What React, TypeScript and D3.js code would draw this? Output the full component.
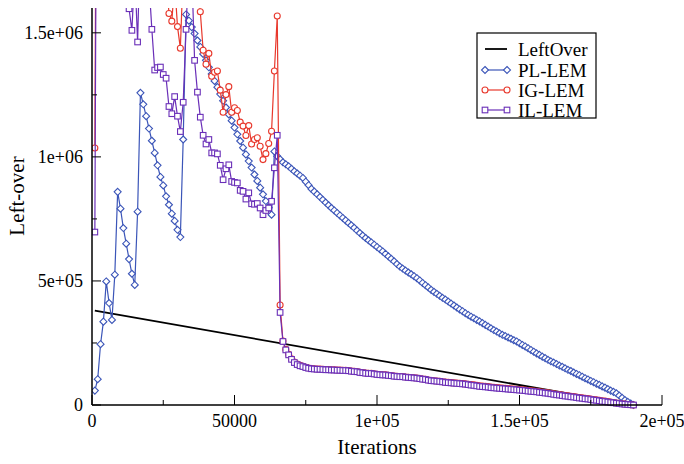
import React from "react";
import * as d3 from "d3";

// Iteration sample points (one every 1000 iterations)
const iterations: number[] = d3.range(1000, 191000, 1000);

// Values in thousands of left-over units, one per sample (values > 1600 lie above the plotted range)
const plLemK: number[] = [
  58, 104, 245, 336, 498, 411, 343, 525, 859, 791,
  713, 650, 588, 529, 484, 779, 1258, 1212, 1164, 1114,
  1065, 1016, 966, 919, 885, 841, 807, 771, 742, 706,
  677, 1070, 1574, 1549, 1523, 1497, 1469, 1443, 1415, 1389,
  1361, 1334, 1306, 1281, 1253, 1226, 1199, 1171, 1146, 1118,
  1091, 1064, 1037, 1010, 983, 957, 929, 903, 876, 849,
  822, 795, 767, 1022, 1003, 990, 978, 970, 962, 952,
  942, 933, 924, 915, 900, 886, 871, 860, 849, 838,
  827, 816, 805, 794, 784, 774, 764, 754, 744, 734,
  724, 714, 703, 693, 683, 673, 664, 655, 646, 637,
  628, 619, 609, 599, 589, 579, 568, 558, 550, 542,
  534, 527, 519, 511, 502, 492, 483, 474, 464, 456,
  448, 440, 432, 425, 417, 409, 401, 393, 385, 378,
  370, 363, 356, 350, 343, 337, 330, 323, 316, 309,
  302, 296, 289, 283, 278, 272, 267, 261, 256, 249,
  242, 236, 229, 222, 215, 208, 202, 195, 189, 182,
  176, 171, 165, 159, 154, 148, 142, 137, 131, 125,
  120, 114, 108, 103, 97, 92, 86, 81, 75, 70,
  64, 58, 53, 47, 38, 29, 20, 13, 6, 0,
];

const igLemK: number[] = [
  1036,
  3600, 3300, 3100, 2950, 2800, 2750, 2600, 2550, 2450, 2400,
  2350, 2300, 2250, 2200, 2150, 2100, 2050, 2000, 1980, 1950,
  1900, 1880, 1850, 1800, 1750,
  1578, 1547, 1700, 1525, 1438,
  1750, 1900, 2000, 1850, 1800, 1700,
  1585, 1430, 1373, 1417, 1325, 1341, 1346, 1269, 1180, 1251,
  1283, 1180, 1198, 1187, 1140, 1124, 1086, 1126, 1052, 1070,
  1077, 1043, 989, 1013, 1054, 1103, 1346, 1568,
  403, 258, 224, 204, 186, 173, 165, 160, 156, 152,
  149, 147, 146, 145, 145, 144, 143, 143, 142, 142,
  141, 141, 140, 140, 139, 137, 136, 135, 132, 131,
  129, 128, 128, 126, 124, 123, 122, 122, 120, 119,
  117, 116, 115, 115, 113, 112, 111, 110, 109, 107,
  105, 104, 101, 99, 98, 97, 96, 94, 92, 91,
  90, 89, 88, 87, 86, 85, 83, 82, 81, 79,
  77, 76, 75, 74, 72, 71, 70, 69, 68, 67,
  66, 65, 64, 63, 62, 61, 60, 58, 57, 56,
  55, 53, 52, 50, 49, 47, 45, 43, 42, 40,
  38, 37, 35, 34, 32, 30, 29, 27, 26, 24,
  22, 21, 19, 17, 16, 14, 12, 10, 8, 7,
  5, 4, 2, 1, 0,
];

const ilLemK: number[] = [
  697,
  3400, 3000, 2800, 2600, 2500, 2300, 2200, 2100, 2000, 1900, 1800,
  1597, 1510, 1750, 1463, 1900, 2100, 1950, 1700, 1514, 1350,
  1360, 1362, 1332, 1317, 1203, 1174, 1243, 1164, 1102, 1220,
  1514, 1800, 1750, 1389, 1261, 1160, 1087, 1052, 1070, 1016,
  1016, 1012, 966, 908, 952, 968, 901, 897, 895, 865,
  861, 830, 855, 811, 809, 812, 794, 767, 784, 794,
  821, 956, 1087,
  373, 256, 222, 202, 184, 171, 163, 158, 155, 151,
  148, 146, 145, 144, 144, 143, 142, 142, 141, 141,
  140, 140, 139, 139, 138, 136, 135, 134, 131, 130,
  128, 127, 127, 125, 123, 122, 121, 121, 119, 118,
  116, 115, 114, 114, 112, 111, 110, 109, 108, 106,
  104, 103, 100, 98, 97, 96, 95, 93, 91, 90,
  89, 88, 87, 86, 85, 84, 82, 80, 79, 77,
  75, 74, 73, 72, 70, 69, 68, 67, 66, 65,
  64, 63, 62, 61, 60, 59, 58, 56, 55, 54,
  53, 51, 50, 48, 47, 45, 43, 41, 40, 38,
  36, 35, 33, 32, 30, 28, 27, 25, 24, 22,
  20, 19, 17, 15, 14, 12, 10, 9, 7, 6,
  4, 3, 2, 1, 0,
];

const leftOverIter: number[] = [1000, 190000];
const leftOverValues: number[] = [380000, 0];

const xTicksMajor: number[] = [0, 50000, 100000, 150000, 200000];
const xTickLabels: string[] = ["0", "50000", "1e+05", "1.5e+05", "2e+05"];
const xTicksMinor: number[] = [25000, 75000, 125000, 175000];
const yTicksMajor: number[] = [0, 500000, 1000000, 1500000];
const yTickLabels: string[] = ["0", "5e+05", "1e+06", "1.5e+06"];
const yTicksMinor: number[] = [250000, 750000, 1250000];

const seriesNames: string[] = ["LeftOver", "PL-LEM", "IG-LEM", "IL-LEM"];

const W = 684;
const H = 464;
const left = 92;
const right = 662;
const top = 8;
const bottom = 405;
const FONT = "'Liberation Serif', 'Times New Roman', serif";

const x = d3.scaleLinear().domain([0, 200000]).range([left, right]);
const y = d3.scaleLinear().domain([0, 1600000]).range([bottom, top]);

type Pt = [number, number];
const toPts = (vals: number[]): Pt[] => vals.map((v, i) => [iterations[i], v * 1000]);

const line = d3
  .line<Pt>()
  .x((d) => x(d[0]))
  .y((d) => y(d[1]));

const COLORS = {
  leftover: "#000000",
  pl: "#3b55b8",
  ig: "#e8382c",
  il: "#6a2fb8",
};

function Marker({ kind, cx, cy, color }: { kind: string; cx: number; cy: number; color: string }) {
  if (kind === "diamond") {
    const r = 3.5;
    return (
      <path
        d={`M${cx},${cy - r}L${cx + r},${cy}L${cx},${cy + r}L${cx - r},${cy}Z`}
        fill="white"
        stroke={color}
        strokeWidth={1.1}
      />
    );
  }
  if (kind === "circle") {
    return <circle cx={cx} cy={cy} r={3} fill="white" stroke={color} strokeWidth={1.1} />;
  }
  const s = 2.8;
  return <rect x={cx - s} y={cy - s} width={2 * s} height={2 * s} fill="white" stroke={color} strokeWidth={1.1} />;
}

function Series({ pts, color, kind }: { pts: Pt[]; color: string; kind: string }) {
  return (
    <g>
      <path d={line(pts) || ""} fill="none" stroke={color} strokeWidth={1.2} />
      {pts.map((p, i) => (
        <Marker key={i} kind={kind} cx={x(p[0])} cy={y(p[1])} color={color} />
      ))}
    </g>
  );
}

export default function App() {
  const pl = toPts(plLemK);
  const ig = toPts(igLemK);
  const il = toPts(ilLemK);
  const lo: Pt[] = leftOverIter.map((it, i) => [it, leftOverValues[i]]);

  const legendItems = [
    { name: seriesNames[0], color: COLORS.leftover, kind: "none" },
    { name: seriesNames[1], color: COLORS.pl, kind: "diamond" },
    { name: seriesNames[2], color: COLORS.ig, kind: "circle" },
    { name: seriesNames[3], color: COLORS.il, kind: "square" },
  ];
  const legendY = [49, 70, 90, 110];

  return (
    <svg
      width={W}
      height={H}
      viewBox={`0 0 ${W} ${H}`}
      style={{ position: "absolute", left: 0, top: 0, background: "white" }}
      fontFamily={FONT}
    >
      <defs>
        <clipPath id="plotClip">
          <rect x={left} y={top} width={right - left + 10} height={H - top} />
        </clipPath>
      </defs>

      <g clipPath="url(#plotClip)">
        <path d={line(lo) || ""} fill="none" stroke={COLORS.leftover} strokeWidth={1.8} />
        <Series pts={pl} color={COLORS.pl} kind="diamond" />
        <Series pts={ig} color={COLORS.ig} kind="circle" />
        <Series pts={il} color={COLORS.il} kind="square" />
      </g>

      {/* axes */}
      <line x1={left} x2={right} y1={bottom} y2={bottom} stroke="black" strokeWidth={1.5} />
      <line x1={left} x2={left} y1={top} y2={bottom} stroke="black" strokeWidth={1.5} />
      {xTicksMajor.map((t, i) => (
        <g key={"xm" + i}>
          <line x1={x(t)} x2={x(t)} y1={bottom} y2={bottom - 10} stroke="black" strokeWidth={1} />
          <text x={x(t)} y={427} textAnchor="middle" fontSize={18}>
            {xTickLabels[i]}
          </text>
        </g>
      ))}
      {xTicksMinor.map((t, i) => (
        <line key={"xn" + i} x1={x(t)} x2={x(t)} y1={bottom} y2={bottom - 5} stroke="black" strokeWidth={1} />
      ))}
      {yTicksMajor.map((t, i) => (
        <g key={"ym" + i}>
          <line x1={left} x2={left + 9} y1={y(t)} y2={y(t)} stroke="black" strokeWidth={1} />
          <text x={83} y={y(t) + 6} textAnchor="end" fontSize={18}>
            {yTickLabels[i]}
          </text>
        </g>
      ))}
      {yTicksMinor.map((t, i) => (
        <line key={"yn" + i} x1={left} x2={left + 5} y1={y(t)} y2={y(t)} stroke="black" strokeWidth={1} />
      ))}

      <text x={(left + right) / 2} y={454} textAnchor="middle" fontSize={21}>
        Iterations
      </text>
      <text transform={`translate(24, 196) rotate(-90)`} textAnchor="middle" fontSize={21}>
        Left-over
      </text>

      {/* legend */}
      <rect x={477} y={33} width={119} height={85} fill="white" stroke="black" strokeWidth={1.2} />
      {legendItems.map((it, i) => (
        <g key={"lg" + i}>
          <line
            x1={485}
            x2={507}
            y1={legendY[i]}
            y2={legendY[i]}
            stroke={it.color}
            strokeWidth={i === 0 ? 1.8 : 1.2}
          />
          {it.kind !== "none" && (
            <>
              <Marker kind={it.kind} cx={485} cy={legendY[i]} color={it.color} />
              <Marker kind={it.kind} cx={507} cy={legendY[i]} color={it.color} />
            </>
          )}
          <text x={518} y={legendY[i] + 6.5} fontSize={19}>
            {it.name}
          </text>
        </g>
      ))}
    </svg>
  );
}
